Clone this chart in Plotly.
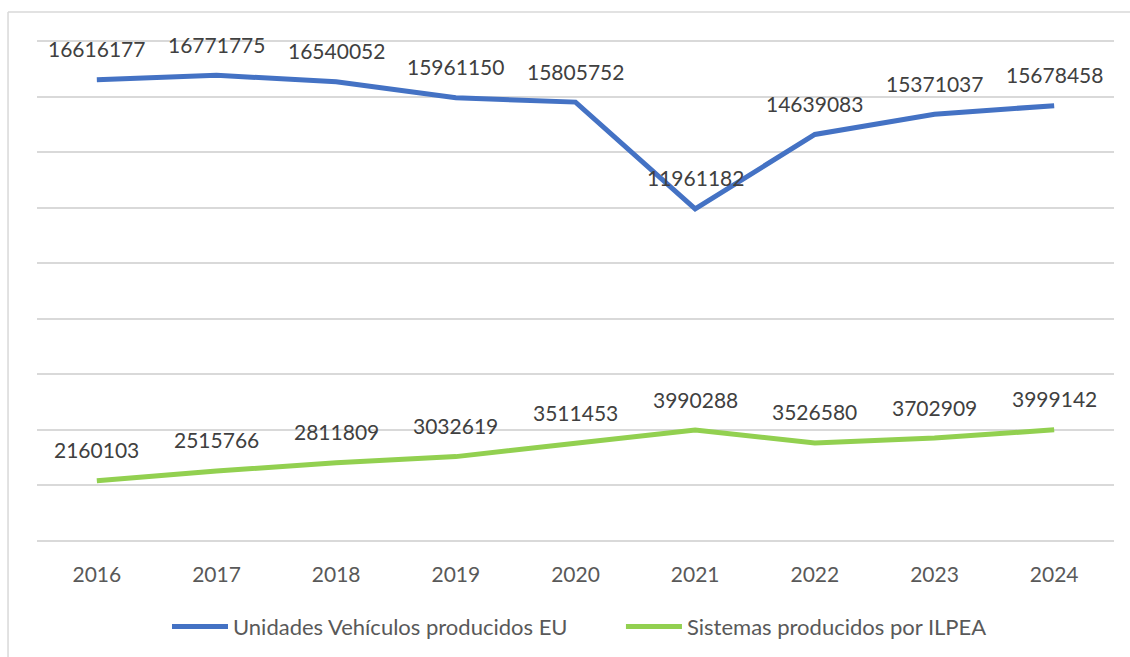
import plotly.graph_objects as go

years = ["2016", "2017", "2018", "2019", "2020", "2021", "2022", "2023", "2024"]
vehiculos_eu = [16616177, 16771775, 16540052, 15961150, 15805752, 11961182, 14639083, 15371037, 15678458]
sistemas_ilpea = [2160103, 2515766, 2811809, 3032619, 3511453, 3990288, 3526580, 3702909, 3999142]

series_names = ["Unidades Vehículos producidos EU", "Sistemas producidos por ILPEA"]
series_colors = ["#4472C4", "#92D050"]
legend_ids = ["legend", "legend2"]

FONT = "Lato"
TEXT_COLOR = "#404040"

fig = go.Figure()
for name, vals, col, lg in zip(series_names, [vehiculos_eu, sistemas_ilpea], series_colors, legend_ids):
    fig.add_trace(go.Scatter(
        x=years, y=vals, mode="lines", name=name, legend=lg,
        line=dict(color=col, width=5),
        hoverinfo="x+y",
    ))

annotations = []
for vals in [vehiculos_eu, sistemas_ilpea]:
    for i, v in enumerate(vals):
        # category axis: annotation x given as category index
        annotations.append(dict(
            x=i, y=v, xref="x", yref="y", text=str(v), showarrow=False,
            yshift=31, yanchor="middle", xanchor="center",
            font=dict(family=FONT, size=21, color=TEXT_COLOR),
        ))

# outer light border (left and top edges visible in the reference)
shapes = [
    dict(type="line", xref="paper", yref="paper", x0=-0.0269, x1=-0.0269, y0=1.0536, y1=-0.25,
         line=dict(color="#d9d9d9", width=1.5)),
    dict(type="line", xref="paper", yref="paper", x0=-0.0269, x1=1.03, y0=1.0536, y1=1.0536,
         line=dict(color="#d9d9d9", width=1.5)),
]

legend_style = dict(orientation="h", yanchor="middle", y=-0.166, xanchor="left",
                    font=dict(family=FONT, size=22, color="#595959"),
                    itemwidth=56, bgcolor="rgba(0,0,0,0)")

fig.update_layout(
    width=1130, height=657,
    margin=dict(l=37, r=16, t=39, b=114, autoexpand=False),
    paper_bgcolor="white", plot_bgcolor="white",
    showlegend=True,
    legend=dict(legend_style, x=0.1207),
    legend2=dict(legend_style, x=0.5422),
    xaxis=dict(type="category", range=[-0.5, len(years) - 0.5], autorange=False,
               showgrid=False, showline=False, zeroline=False, automargin=False,
               tickfont=dict(family=FONT, size=21, color="#595959"),
               ticklabelstandoff=17, ticks=""),
    yaxis=dict(range=[-80000, 18080000], autorange=False, tick0=0, dtick=2000000,
               showgrid=True, gridcolor="#d9d9d9", automargin=False,
               gridwidth=2, showticklabels=False, zeroline=False, showline=False, ticks=""),
    annotations=annotations,
    shapes=shapes,
)

fig.write_html("out.html", config={"displayModeBar": False},
               post_script="document.body.style.margin='0';")
